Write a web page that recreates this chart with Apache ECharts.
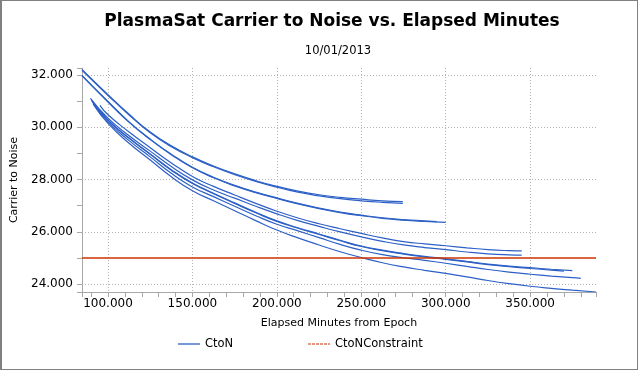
<!DOCTYPE html>
<html><head><meta charset="utf-8">
<script src="https://cdn.jsdelivr.net/npm/echarts@6/dist/echarts.min.js"></script>
<style>
html,body{margin:0;padding:0;background:#fff}
#wrap{position:relative;width:638px;height:370px}
#c{width:638px;height:370px}
#frame{position:absolute;left:0;top:0;width:638px;height:370px;box-sizing:border-box;border:1px solid #808080;border-left:2px solid #808080;pointer-events:none}
</style>
</head><body>
<div id="wrap"><div id="c"></div><div id="frame"></div></div>
<script>
// ---- text ----
const titleText = 'PlasmaSat Carrier to Noise vs. Elapsed Minutes';
const subtitleText = '10/01/2013';
const xAxisName = 'Elapsed Minutes from Epoch';
const yAxisName = 'Carrier to Noise';
const seriesNames = ['CtoN', 'CtoNConstraint'];

// ---- axis ranges ----
const xMin = 84.6, xMax = 389;
const yMin = 23.7, yMax = 32.27;

// ---- constraint ----
const constraintValue = 25;

// ---- CtoN passes: [elapsed minutes, carrier to noise] ----
const pass1 = [[84.6,32.22],[100,31.25],[112.5,30.50],[125,29.82],[137.5,29.29],[150,28.87],[162.5,28.52],[175,28.22],[187.5,27.96],[200,27.74],[212.5,27.56],[225,27.42],[237.5,27.32],[250,27.25],[262.5,27.19],[274.6,27.16]];
const pass2 = [[84.6,32.18],[100,31.22],[112.5,30.47],[125,29.79],[137.5,29.26],[150,28.84],[162.5,28.49],[175,28.19],[187.5,27.93],[200,27.71],[212.5,27.52],[225,27.38],[237.5,27.27],[250,27.19],[262.5,27.13],[274.6,27.09]];
const pass3 = [[84.6,31.99],[100,30.99],[112.5,30.21],[125,29.55],[137.5,28.97],[150,28.47],[162.5,28.09],[175,27.78],[187.5,27.52],[200,27.30],[212.5,27.09],[225,26.91],[237.5,26.76],[250,26.64],[262.5,26.54],[275,26.47],[287.5,26.42],[294.7,26.39]];
const pass4 = [[84.6,31.97],[100,30.97],[112.5,30.19],[125,29.53],[137.5,28.95],[150,28.45],[162.5,28.07],[175,27.76],[187.5,27.50],[200,27.28],[212.5,27.07],[225,26.89],[237.5,26.74],[250,26.62],[262.5,26.52],[275,26.45],[287.5,26.40],[300,26.36]];
const pass5 = [[95.2,30.84],[100,30.48],[112.5,29.82],[125,29.22],[137.5,28.64],[150,28.12],[162.5,27.74],[175,27.41],[187.5,27.09],[200,26.79],[212.5,26.53],[225,26.31],[237.5,26.12],[250,25.94],[262.5,25.77],[275,25.63],[287.5,25.54],[300,25.47],[312.5,25.39],[325,25.32],[337.5,25.28],[345,25.27]];
const pass6 = [[89.6,31.11],[100,30.35],[112.5,29.68],[125,29.09],[137.5,28.50],[150,27.99],[162.5,27.60],[175,27.29],[187.5,26.98],[200,26.69],[212.5,26.43],[225,26.21],[237.5,26.00],[250,25.81],[262.5,25.64],[275,25.50],[287.5,25.40],[300,25.32],[312.5,25.23],[325,25.16],[337.5,25.12],[345,25.11]];
const pass7 = [[90.2,31.04],[100,30.28],[112.5,29.58],[125,28.97],[137.5,28.36],[150,27.85],[162.5,27.46],[175,27.09],[187.5,26.73],[200,26.40],[212.5,26.14],[225,25.90],[237.5,25.66],[250,25.44],[262.5,25.28],[275,25.15],[287.5,25.04],[300,24.95],[312.5,24.85],[325,24.75],[337.5,24.67],[350,24.60],[362.5,24.54],[370,24.50]];
const pass8 = [[90.4,31.02],[100,30.27],[112.5,29.59],[125,28.98],[137.5,28.38],[150,27.87],[162.5,27.48],[175,27.11],[187.5,26.75],[200,26.42],[212.5,26.16],[225,25.92],[237.5,25.68],[250,25.46],[262.5,25.30],[275,25.17],[287.5,25.06],[300,24.97],[312.5,24.87],[325,24.77],[337.5,24.69],[350,24.63],[362.5,24.57],[375,24.52]];
const pass9 = [[90.8,30.96],[100,30.21],[112.5,29.49],[125,28.87],[137.5,28.24],[150,27.72],[162.5,27.35],[175,26.98],[187.5,26.62],[200,26.29],[212.5,26.04],[225,25.78],[237.5,25.52],[250,25.30],[262.5,25.13],[275,25.01],[287.5,24.91],[300,24.80],[312.5,24.68],[325,24.56],[337.5,24.46],[350,24.38],[362.5,24.31],[375,24.25],[380,24.22]];
const pass10 = [[91.2,30.89],[100,30.15],[112.5,29.39],[125,28.75],[137.5,28.11],[150,27.57],[162.5,27.19],[175,26.81],[187.5,26.43],[200,26.07],[212.5,25.77],[225,25.50],[237.5,25.24],[250,25.02],[262.5,24.82],[275,24.66],[287.5,24.53],[300,24.41],[312.5,24.28],[325,24.14],[337.5,24.02],[350,23.92],[362.5,23.84],[375,23.77],[389,23.70]];
const passes = [pass1, pass2, pass3, pass4, pass5, pass6, pass7, pass8, pass9, pass10];

const FONT = 'DejaVu Sans';
const BLUE = '#2c60c6';
const ORANGE = '#cc3300';
const AXIS = '#a8a8a8';
const GRID = '#b4b4b4';

const series = passes.map(p => ({
  type: 'line', name: seriesNames[0], data: p, symbol: 'none', showSymbol: false,
  smooth: 0.5,
  lineStyle: { color: BLUE, width: 1.2 }, itemStyle: { color: BLUE },
  z: 2
}));
series.push({
  type: 'line', name: seriesNames[1], symbol: 'none', showSymbol: false,
  data: [[xMin, constraintValue], [xMax, constraintValue]],
  lineStyle: { color: ORANGE, width: 1.5 }, itemStyle: { color: ORANGE }, z: 3
});

const solidIcon = 'path://M0,0h22v1.3h-22z';
const dashIcon = 'path://M0,0h3v1.1h-3z M4,0h3v1.1h-3z M8,0h3v1.1h-3z M12,0h3v1.1h-3z M16,0h3v1.1h-3z M20,0h2v1.1h-2z';

const legendText = { fontFamily: FONT, fontSize: 11.5, color: '#000' };
const chart = echarts.init(document.getElementById('c'));
chart.setOption({
  animation: false,
  backgroundColor: '#fff',
  title: [
    { text: titleText, left: 332, top: 13, padding: 0, textAlign: 'center',
      textStyle: { fontFamily: FONT, fontWeight: 'bold', fontSize: 17, color: '#000' } },
    { text: subtitleText, left: 338, top: 45, padding: 0, textAlign: 'center',
      textStyle: { fontFamily: FONT, fontWeight: 'normal', fontSize: 11.5, color: '#000' } }
  ],
  legend: [
    { data: [{ name: seriesNames[0], icon: solidIcon }], left: 178, top: 338, padding: 0, itemWidth: 22, itemHeight: 12, textStyle: legendText },
    { data: [{ name: seriesNames[1], icon: dashIcon }], left: 308, top: 338, padding: 0, itemWidth: 22, itemHeight: 12, textStyle: legendText }
  ],
  grid: { left: 82, right: 42, top: 68, bottom: 78 },
  xAxis: {
    type: 'value', min: xMin, max: xMax, splitNumber: 6,
    name: xAxisName, nameLocation: 'middle', nameGap: 26,
    nameTextStyle: { fontFamily: FONT, fontSize: 11, color: '#000' },
    axisLine: { show: true, lineStyle: { color: AXIS } },
    axisTick: { show: true, length: 5, lineStyle: { color: AXIS } },
    minorTick: { show: true, splitNumber: 5, length: 5, lineStyle: { color: AXIS } },
    axisLabel: { showMinLabel: false, showMaxLabel: false, margin: 6, fontFamily: FONT, fontSize: 12, color: '#000',
      formatter: v => v.toFixed(3) },
    splitLine: { show: true, showMinLine: false, showMaxLine: false, lineStyle: { color: GRID, type: [1, 2] } }
  },
  yAxis: {
    type: 'value', min: yMin, max: yMax, splitNumber: 5,
    name: yAxisName, nameLocation: 'middle', nameGap: 56,
    nameTextStyle: { fontFamily: FONT, fontSize: 11, color: '#000' },
    axisLine: { show: true, lineStyle: { color: AXIS } },
    axisTick: { show: true, length: 5, lineStyle: { color: AXIS } },
    minorTick: { show: true, splitNumber: 2, length: 5, lineStyle: { color: AXIS } },
    axisLabel: { showMinLabel: false, showMaxLabel: false, margin: 9, fontFamily: FONT, fontSize: 12, color: '#000',
      formatter: v => v.toFixed(3) },
    splitLine: { show: true, showMinLine: false, showMaxLine: false, lineStyle: { color: GRID, type: [1, 2] } }
  },
  series: series
});
</script>
</body></html>
